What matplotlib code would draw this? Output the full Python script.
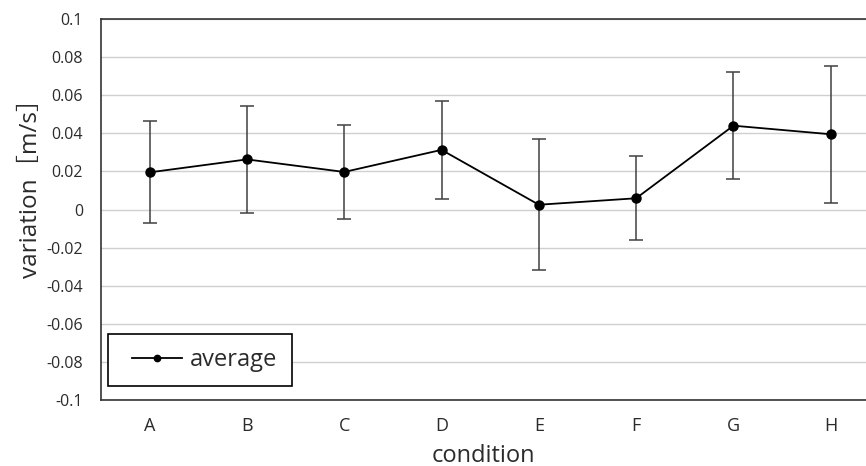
import matplotlib
matplotlib.use("Agg")
import matplotlib.pyplot as plt
from matplotlib.patches import Rectangle
import numpy as np

categories = ["A", "B", "C", "D", "E", "F", "G", "H"]
average = [0.0195, 0.0263, 0.0197, 0.0313, 0.0025, 0.0059, 0.0440, 0.0395]
error = [0.0267, 0.0280, 0.0245, 0.0257, 0.0345, 0.0220, 0.0280, 0.0360]
yticks = [-0.1, -0.08, -0.06, -0.04, -0.02, 0, 0.02, 0.04, 0.06, 0.08, 0.1]
ytick_labels = ["-0.1", "-0.08", "-0.06", "-0.04", "-0.02", "0", "0.02", "0.04", "0.06", "0.08", "0.1"]

fam = ["Open Sans", "Noto Sans CJK JP", "DejaVu Sans"]
plt.rcParams["font.family"] = fam
txt = "#2b2b2b"

W, H = 866, 466
L, R, T, B = 101, 866, 19, 400
fig = plt.figure(figsize=(W / 100, H / 100), dpi=100)
ax = fig.add_axes([L / W, 1 - B / H, (R - L) / W, (B - T) / H])

x = np.arange(len(categories))
ax.errorbar(x, average, yerr=error, fmt="none", ecolor="#404040", elinewidth=1.1,
            capsize=5.3, capthick=1.1, zorder=2)
ax.plot(x, average, color="black", lw=1.3, marker="o", markersize=6.5,
        label="average", zorder=3)

ax.set_xlim(-0.5, -0.5 + (R - L) / 97.3)
ax.set_ylim(-0.1, 0.1)
ax.set_yticks(yticks)
ax.set_yticklabels(ytick_labels, fontsize=11.5, color=txt)
ax.set_xticks(x)
ax.set_xticklabels(categories, fontsize=13, color=txt)
ax.tick_params(length=0)
ax.tick_params(axis="x", pad=12)
ax.tick_params(axis="y", pad=13)

ax.yaxis.grid(True, color="#d0d0d0", lw=1.0)
ax.set_axisbelow(True)
for s in ["left", "top", "bottom"]:
    ax.spines[s].set_color("#333333")
    ax.spines[s].set_linewidth(1.2)
ax.spines["right"].set_visible(False)

ax.set_xlabel("condition", fontsize=17, color=txt, labelpad=6.5)
ax.set_ylabel("variation［m/s］", fontsize=17.5, color=txt)
ax.yaxis.set_label_coords(-0.076, 0.572)

# legend box
aw, ah = R - L, B - T
frame = Rectangle(((108 - L) / aw, (B - 386) / ah), 184 / aw, 52 / ah,
                  transform=ax.transAxes, facecolor="white", edgecolor="black",
                  lw=1.2, zorder=4)
ax.add_patch(frame)
leg = ax.legend(loc="center left", fontsize=17, frameon=False,
                bbox_to_anchor=((132 - L) / aw, (B - 360) / ah),
                borderpad=0, borderaxespad=0, handlelength=2.1,
                handletextpad=0.35, markerscale=0.7)
leg.set_zorder(5)
for t in leg.get_texts():
    t.set_color(txt)

fig.savefig("out.png", dpi=100)
